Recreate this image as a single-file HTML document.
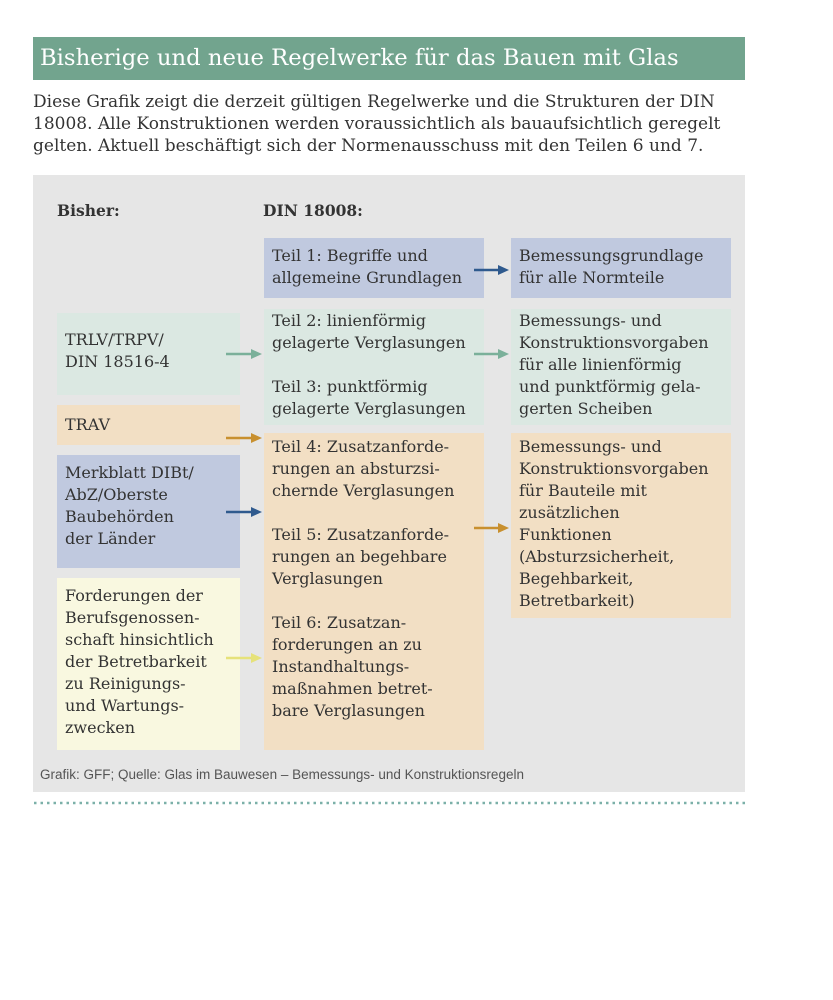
<!DOCTYPE html>
<html><head><meta charset="utf-8"><style>
body{margin:0;width:833px;height:1000px;background:#fff;position:relative;font-family:"DejaVu Serif","Liberation Serif",serif;color:#333;}
.a{position:absolute;white-space:nowrap}
.t{position:absolute;font-size:16px;line-height:22px;box-sizing:border-box;padding:7px 8px;white-space:nowrap;}
.b{background:#c0c9df}.g{background:#dbe8e2}.o{background:#f2dfc4}.y{background:#f9f8e0}
</style></head><body>
<div class="a" style="left:33px;top:37px;width:712px;height:43px;background:#72a48e;"></div>
<div class="a" style="left:40px;top:42px;font-size:22.7px;line-height:32px;color:#fff;">Bisherige und neue Regelwerke für das Bauen mit Glas</div>
<div class="a" style="left:33px;top:91px;font-size:17px;line-height:22px;">Diese Grafik zeigt die derzeit gültigen Regelwerke und die Strukturen der DIN<br>18008. Alle Konstruktionen werden voraussichtlich als bauaufsichtlich geregelt<br>gelten. Aktuell beschäftigt sich der Normenausschuss mit den Teilen 6 und 7.</div>
<div class="a" style="left:33px;top:175px;width:712px;height:617px;background:#e6e6e6;"></div>
<div class="a" style="left:57px;top:201px;font-size:15.5px;font-weight:bold;">Bisher:</div>
<div class="a" style="left:263px;top:201px;font-size:15.5px;font-weight:bold;">DIN 18008:</div>

<div class="t b" style="left:264px;top:238px;width:220px;height:60px;">Teil 1: Begriffe und<br>allgemeine Grundlagen</div>
<div class="t b" style="left:511px;top:238px;width:220px;height:60px;">Bemessungsgrundlage<br>für alle Normteile</div>
<div class="t g" style="left:57px;top:313px;width:183px;height:82px;padding-top:16px;">TRLV/TRPV/<br>DIN 18516-4</div>
<div class="t g" style="left:264px;top:309px;width:220px;height:116px;padding-top:1px;">Teil 2: linienförmig<br>gelagerte Verglasungen<br><span style="display:block;height:22px"></span>Teil 3: punktförmig<br>gelagerte Verglasungen</div>
<div class="t g" style="left:511px;top:309px;width:220px;height:116px;padding-top:1px;">Bemessungs- und<br>Konstruktionsvorgaben<br>für alle linienförmig<br>und punktförmig gela-<br>gerten Scheiben</div>
<div class="t o" style="left:57px;top:405px;width:183px;height:40px;padding-top:9px;">TRAV</div>
<div class="t o" style="left:264px;top:433px;width:220px;height:317px;padding-top:3px;">Teil 4: Zusatzanforde-<br>rungen an absturzsi-<br>chernde Verglasungen<br><span style="display:block;height:22px"></span>Teil 5: Zusatzanforde-<br>rungen an begehbare<br>Verglasungen<br><span style="display:block;height:22px"></span>Teil 6: Zusatzan-<br>forderungen an zu<br>Instandhaltungs-<br>maßnahmen betret-<br>bare Verglasungen</div>
<div class="t o" style="left:511px;top:433px;width:220px;height:185px;padding-top:3px;">Bemessungs- und<br>Konstruktionsvorgaben<br>für Bauteile mit<br>zusätzlichen<br>Funktionen<br>(Absturzsicherheit,<br>Begehbarkeit,<br>Betretbarkeit)</div>
<div class="t b" style="left:57px;top:455px;width:183px;height:113px;">Merkblatt DIBt/<br>AbZ/Oberste<br>Baubehörden<br>der Länder</div>
<div class="t y" style="left:57px;top:578px;width:183px;height:172px;">Forderungen der<br>Berufsgenossen-<br>schaft hinsichtlich<br>der Betretbarkeit<br>zu Reinigungs-<br>und Wartungs-<br>zwecken</div>

<svg class="a" style="left:0;top:0" width="833" height="1000">
<g stroke-width="2.5">
<line x1="474" y1="270" x2="500" y2="270" stroke="#2f5a8e"/><polygon points="509,270 498,265 498,275" fill="#2f5a8e"/>
<line x1="226" y1="354" x2="253" y2="354" stroke="#7bb09a"/><polygon points="262,354 251,349 251,359" fill="#7bb09a"/>
<line x1="474" y1="354" x2="500" y2="354" stroke="#7bb09a"/><polygon points="509,354 498,349 498,359" fill="#7bb09a"/>
<line x1="226" y1="438" x2="253" y2="438" stroke="#c8902f"/><polygon points="262,438 251,433 251,443" fill="#c8902f"/>
<line x1="226" y1="512" x2="253" y2="512" stroke="#2f5a8e"/><polygon points="262,512 251,507 251,517" fill="#2f5a8e"/>
<line x1="474" y1="528" x2="500" y2="528" stroke="#c8902f"/><polygon points="509,528 498,523 498,533" fill="#c8902f"/>
<line x1="226" y1="658" x2="253" y2="658" stroke="#e6e27a"/><polygon points="262,658 251,653 251,663" fill="#e6e27a"/>
</g>
<line x1="34" y1="803" x2="745" y2="803" stroke="#7bb0a8" stroke-width="2.5" stroke-dasharray="2.5 4"/>
</svg>
<div class="a" style="left:40px;top:767px;font-family:'Liberation Sans',sans-serif;font-size:13.5px;color:#555;">Grafik: GFF; Quelle: Glas im Bauwesen – Bemessungs- und Konstruktionsregeln</div>
</body></html>
